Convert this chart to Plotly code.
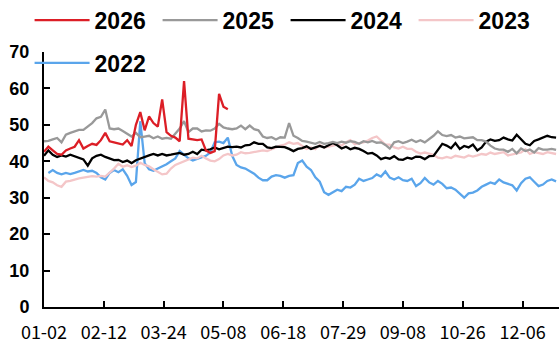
import datetime as dt
import plotly.graph_objects as go

# category axis: union of trading-day dates (MM-DD), holidays closed in every year removed
closed = {"04-05", "05-01", "05-02", "05-03",
          "10-01", "10-02", "10-03", "10-04", "10-05", "10-06", "10-07"}
dates = []
d = dt.date(2024, 1, 2)
while d <= dt.date(2024, 12, 31):
    s = d.strftime("%m-%d")
    if s not in closed:
        dates.append(s)
    d += dt.timedelta(days=1)

# values read every 3rd date
sample_dates = dates[::3]

tick_labels = ["01-02", "02-12", "03-24", "05-08", "06-18", "07-29", "09-08", "10-26", "12-06"]

y2026 = [42.6, 44, 43, 42, 41.8, 43, 43.5, 44, 45.8, 43.5, 44.2, 44.8, 44.5, 45.8, 47.8,
         45.5, 45.2, 44.8, 44.6, 45.8, 44.2, 50, 53.5, 48.5, 52.3, 50.5, 49.5, 57, 48,
         47, 46.5, 45.5, 62, 46.2, 46, 45.8, 46, 43, 42.3, 42.8, 58.5, 55, 54.3]

y2025 = [45.5, 45.6, 46, 46.4, 45.2, 47.3, 47.8, 48.2, 48.6, 48.6, 49.5, 50.5, 51.8, 52.2,
         54.2, 49, 48.8, 49, 48.3, 47.6, 46.8, 47.8, 46.6, 46.8, 47, 46.3, 46.8, 46.2,
         46.4, 46.2, 47.5, 49, 51, 48, 49, 49, 48.2, 48.5, 48.4, 49, 50.3, 49.3, 49,
         48.8, 49, 49.8, 48.8, 49.8, 48.8, 48.5, 46.8, 46.4, 46.6, 46, 46.6, 46.5, 50.5,
         47, 46.4, 45.6, 45.4, 45.2, 44.8, 45.3, 44.8, 45, 45.3, 45, 45.4, 45.1, 45.5,
         45.3, 44.8, 45.5, 45.2, 45.6, 45.1, 45.2, 44.5, 43.5, 45.2, 45.5, 45, 45.4,
         45.9, 45.3, 45.8, 45.2, 46, 47, 48.2, 47.2, 46.9, 47.2, 46.5, 46.8, 46.3, 46.5,
         46.6, 45.8, 45.8, 45.4, 44.3, 43.5, 43.2, 43.2, 42.6, 43.4, 42.2, 43.5, 42.8,
         43.2, 42.4, 43.6, 43.2, 43.2, 43.4, 43.1]

y2024 = [41.5, 43, 41.8, 41.2, 41.6, 41.3, 41.8, 41.3, 40.8, 40.5, 38.8, 40.8, 41.5, 41.8,
         41.2, 40.8, 40.3, 40.4, 39.8, 40.2, 39.5, 40.3, 40.8, 41.3, 41.6, 42, 41.6, 42,
         41.6, 41.8, 42, 42.3, 41.8, 42, 42.6, 42, 43.2, 43, 43.3, 43.8, 43.3, 43.6, 44,
         43.9, 44, 43.8, 44.4, 44.5, 45.2, 44.8, 44.8, 43.8, 43.6, 44, 44, 43.9, 43.4,
         42.8, 43.4, 43.6, 44.1, 43.4, 43.8, 44.2, 43.8, 44.3, 45, 44.4, 43.5, 44, 43.3,
         43.7, 43.4, 42.8, 42.1, 42.3, 41.6, 40.6, 41, 40.7, 41.4, 40.5, 40.4, 41, 40.7,
         41.3, 41.2, 40.6, 41.4, 41.5, 43.3, 44.8, 44.3, 43.6, 45, 43.4, 44.2, 43.8,
         44.6, 43, 43.8, 45.4, 46, 45.6, 45.8, 46.5, 46, 45.7, 47.3, 46, 44.8, 44.4,
         45.6, 46, 46.4, 47, 46.6, 46.5]

y2023 = [35.6, 34.6, 34.2, 33.4, 33, 34.4, 34.6, 35, 35.3, 35.5, 35.8, 35.9, 35.8, 36,
         35.8, 36.8, 38, 39.3, 38.5, 38.9, 38.4, 38.8, 39.6, 39, 38.6, 37.8, 37, 36.4,
         36.6, 38, 39, 39.5, 40, 40.5, 41, 40.8, 41.5, 40.8, 40.2, 40, 40.6, 41.6, 42,
         41.6, 41.8, 42.5, 42.2, 42.3, 42.6, 42.8, 43, 42.8, 43.4, 43.8, 44.3, 44.6, 45.2,
         44.8, 45, 44.2, 43.4, 43.8, 43.3, 44.5, 43.8, 44, 44.2, 44.6, 44.3, 45.2, 45.8,
         44.7, 45, 45.2, 45.7, 46.4, 46.8, 45.8, 44.6, 44.6, 43.8, 43.5, 44, 43.4, 43.4,
         42.6, 42.1, 42.4, 42.2, 41.8, 41, 40.8, 41.2, 40.9, 41.5, 41.2, 41, 41.6, 41.3,
         41.6, 42, 41.8, 42.4, 42, 42.2, 42.5, 41.6, 41.8, 42.1, 42.4, 43.3, 42, 42.5,
         42.2, 42, 42.5, 42.3, 42]

y2022 = [None, 36.8, 37.6, 36.8, 36.4, 36.8, 36.5, 36.8, 37.2, 37.6, 37.2, 37.4, 36.8,
         35.6, 35, 36.8, 37.6, 37, 37.8, 36, 33.5, 34.3, 51, 39.5, 37.8, 37.4, 38, 38.5,
         39.2, 40, 40.8, 42.8, 41.8, 40.8, 40.2, 40.6, 41.2, 41.5, 42.4, 45.2, 45.4, 45,
         46.5, 41.5, 39, 38.3, 38, 37.4, 36.6, 35.5, 34.8, 34.8, 35.8, 36.2, 36, 35.5, 36,
         36.2, 39.5, 40.2, 38.5, 37.6, 35.6, 34.4, 31.5, 30.8, 31.6, 32.2, 31.8, 33, 32.8,
         33.6, 35.2, 34.6, 35, 35.4, 36.4, 35.8, 37.2, 35.5, 35, 35.6, 34.8, 34.6, 35.2,
         33.2, 34, 35.4, 34.2, 33.6, 34.6, 33.8, 32.6, 32.8, 32.2, 31, 30, 31.2, 31.4, 32,
         33, 33.6, 34.2, 33.8, 35, 34.2, 33.8, 33.4, 32, 34, 35.2, 35.6, 34.4, 33.2, 33.6,
         34.6, 35, 34.5]

series = [
    ("2022", y2022, "#5AA5EB", "legend2"),
    ("2023", y2023, "#F4C6C8", "legend"),
    ("2024", y2024, "#000000", "legend"),
    ("2025", y2025, "#999999", "legend"),
    ("2026", y2026, "#DC1E26", "legend"),
]

fig = go.Figure()
for name, vals, color, leg in series:
    fig.add_trace(go.Scatter(
        x=sample_dates[:len(vals)], y=vals, name=name, mode="lines",
        line=dict(color=color, width=2.3), legend=leg))

legend_font = dict(family="Liberation Sans, Arial", size=23, color="black", weight="bold")
legend_common = dict(orientation="h", x=-0.028, xanchor="left", yanchor="middle",
                     entrywidth=58, entrywidthmode="pixels", itemwidth=55,
                     bgcolor="rgba(0,0,0,0)", font=legend_font)

fig.update_layout(
    width=560, height=345,
    margin=dict(l=44, r=1, t=52, b=38, autoexpand=False),
    paper_bgcolor="white", plot_bgcolor="white",
    showlegend=True,
    legend=dict(traceorder="reversed", y=1.125, **legend_common),
    legend2=dict(y=0.957, **legend_common),
)

fig.update_xaxes(
    type="category", categoryorder="array", categoryarray=dates,
    range=[0, len(dates) - 1],
    tickmode="array", tickvals=tick_labels + [dates[-1]], ticktext=tick_labels + [""],
    ticks="inside", ticklen=6, tickwidth=1.5, tickcolor="black",
    showline=True, linecolor="black", linewidth=2, showgrid=False,
    ticklabelstandoff=8,
    tickfont=dict(family="Noto Sans CJK SC", size=18, color="black"),
)
fig.update_yaxes(
    range=[0, 70], dtick=10,
    ticks="inside", ticklen=6, tickwidth=1.5, tickcolor="black",
    showline=True, linecolor="black", linewidth=2, showgrid=False, zeroline=False,
    ticklabelstandoff=9,
    tickfont=dict(family="Liberation Sans, Arial", size=18, color="black", weight="bold"),
)

# the page body has an 8px default margin; drop it so the figure sits at the window corner
fig.write_html("out.html", config={"displayModeBar": False},
               post_script="document.body.style.margin='0';")
